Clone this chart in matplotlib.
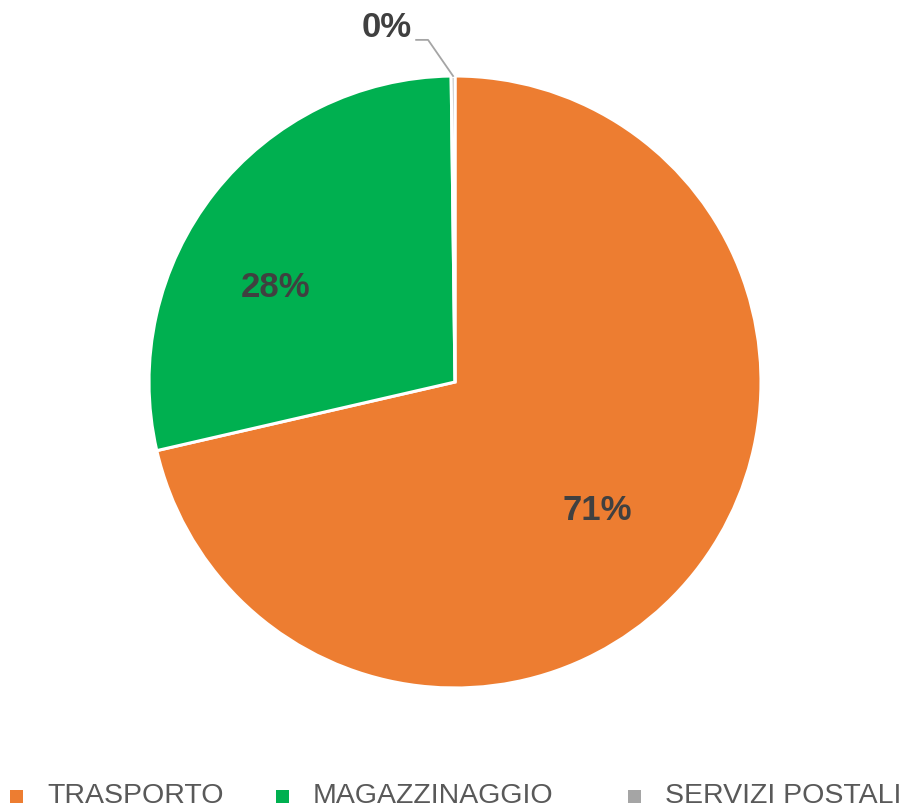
import matplotlib
matplotlib.use('Agg')
import matplotlib.pyplot as plt
import numpy as np
from matplotlib.patches import Rectangle

categories = ['TRASPORTO', 'MAGAZZINAGGIO', 'SERVIZI POSTALI']
values = [71.4, 28.4, 0.2]
colors = ['#ED7D31', '#00B050', '#A5A5A5']

W, H = 915, 811
fig = plt.figure(figsize=(W / 100, H / 100), dpi=100)

# pie area: center (455, 382) px, radius 306 px
cx, cy, r = 455, 382, 306
ax = fig.add_axes([(cx - r) / W, (H - cy - r) / H, 2 * r / W, 2 * r / H])

lab_font = dict(color='#404040', fontsize=25, fontweight='bold',
                family=['Liberation Sans', 'DejaVu Sans'])
wedges, _, autotexts = ax.pie(values, colors=colors, startangle=90, counterclock=False,
                              radius=1, autopct='%.0f%%', pctdistance=0.64,
                              wedgeprops=dict(edgecolor='white', linewidth=2.2),
                              textprops=lab_font)
ax.set_xlim(-1, 1)
ax.set_ylim(-1, 1)
ax.set_aspect('equal')
ax.axis('off')

# nudge inner labels toward where the reference has them
autotexts[0].set_position((0.465, -0.42))
autotexts[1].set_position((-0.585, 0.31))

# small slice label goes outside with a leader line
small = autotexts[2]
small.set_visible(False)
w = wedges[2]
mid = np.deg2rad((w.theta1 + w.theta2) / 2)
px, py = np.cos(mid), np.sin(mid)
ax.plot([-0.127, -0.088, px], [1.118, 1.118, py], color='#A5A5A5', lw=1.3, clip_on=False)
ax.text(-0.14, 1.158, small.get_text(), ha='right', va='center', clip_on=False, **lab_font)

# legend along the bottom
leg_x = [10, 276, 628]
for x0, name, col in zip(leg_x, categories, colors):
    fig.patches.append(Rectangle((x0 / W, (H - 803) / H), 13 / W, 13 / H,
                                 transform=fig.transFigure, facecolor=col, edgecolor='none'))
    fig.text((x0 + 37) / W, (H - 809) / H, name, ha='left', va='bottom',
             fontsize=20.5, color='#595959', family=['Liberation Sans', 'DejaVu Sans'])

fig.savefig('out.png', dpi=100)
